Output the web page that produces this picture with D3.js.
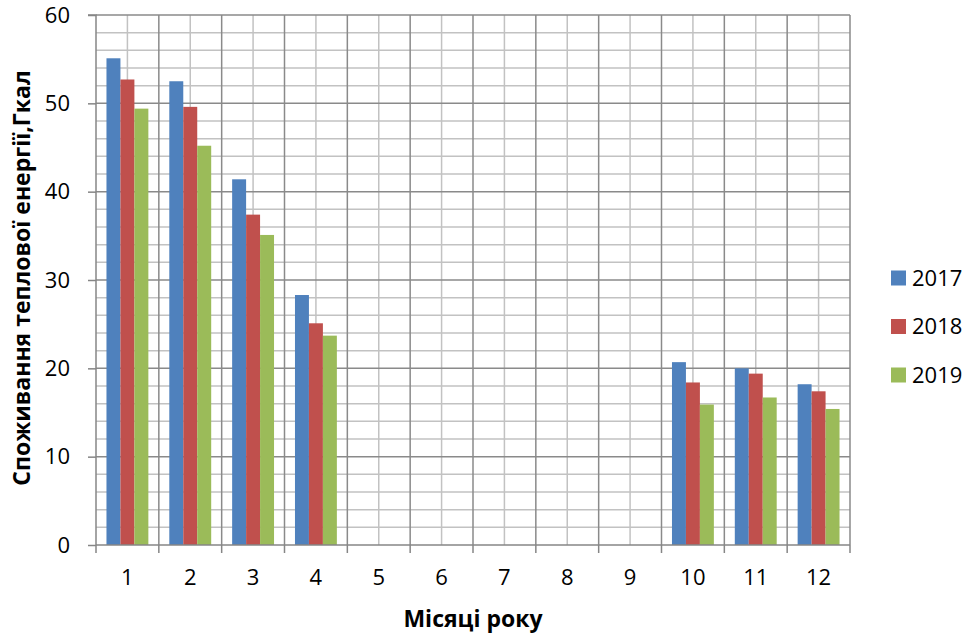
<!DOCTYPE html>
<html>
<head>
<meta charset="utf-8">
<script src="https://cdn.jsdelivr.net/npm/d3@7"></script>
<style>
  html, body { margin: 0; padding: 0; background: #fff; }
  svg { display: block; font-family: "Open Sans", Lato, sans-serif; }
</style>
</head>
<body>
<svg id="chart" width="973" height="633"></svg>
<script>
// Monthly heat consumption, Gcal
const months = ["1", "2", "3", "4", "5", "6", "7", "8", "9", "10", "11", "12"];
const years = ["2017", "2018", "2019"];
const values2017 = [55.1, 52.5, 41.4, 28.3, null, null, null, null, null, 20.7, 20.0, 18.2];
const values2018 = [52.7, 49.6, 37.4, 25.1, null, null, null, null, null, 18.4, 19.4, 17.4];
const values2019 = [49.4, 45.2, 35.1, 23.7, null, null, null, null, null, 15.9, 16.7, 15.4];
const yTicks = [0, 10, 20, 30, 40, 50, 60];
const colors = ["#4F81BD", "#C0504D", "#9BBB59"];
const yTitle = "Споживання теплової енергії,Гкал";
const xTitle = "Місяці року";

const seriesValues = [values2017, values2018, values2019];

const svg = d3.select("#chart");
const plotLeft = 96, plotRight = 850, plotTop = 15, plotBottom = 545;
const labelFont = "22px";
const titleFont = "23px";

const x = d3.scaleBand().domain(months).range([plotLeft, plotRight]).padding(0);
const xs = d3.scaleBand().domain(years).range([0, x.bandwidth()]).paddingInner(0).paddingOuter(0.75);
const y = d3.scaleLinear().domain([0, 60]).range([plotBottom, plotTop]);

const grid = svg.append("g");
// minor horizontal gridlines every 2 units
grid.selectAll("line.hmin").data(d3.range(0, 61, 2).filter(v => v % 10 !== 0)).join("line")
  .attr("x1", plotLeft).attr("x2", plotRight)
  .attr("y1", d => y(d)).attr("y2", d => y(d))
  .attr("stroke", "#c2c2c2").attr("stroke-width", 1.5);
// minor vertical gridlines at category centres
grid.selectAll("line.vmin").data(months).join("line")
  .attr("x1", d => x(d) + x.bandwidth() / 2).attr("x2", d => x(d) + x.bandwidth() / 2)
  .attr("y1", plotTop).attr("y2", plotBottom)
  .attr("stroke", "#c2c2c2").attr("stroke-width", 1.5);
// major horizontal gridlines
grid.selectAll("line.hmaj").data(yTicks.filter(v => v > 0)).join("line")
  .attr("x1", plotLeft).attr("x2", plotRight)
  .attr("y1", d => y(d)).attr("y2", d => y(d))
  .attr("stroke", "#8a8a8a").attr("stroke-width", 1.5);
// major vertical gridlines at category boundaries
grid.selectAll("line.vmaj").data(months.map(m => x(m) + x.bandwidth())).join("line")
  .attr("x1", d => d).attr("x2", d => d)
  .attr("y1", plotTop).attr("y2", plotBottom)
  .attr("stroke", "#8a8a8a").attr("stroke-width", 1.5);

// bars
const bars = svg.append("g");
years.forEach((yr, i) => {
  const vals = seriesValues[i];
  bars.append("g").selectAll("rect")
    .data(months.map((m, j) => ({ m, v: vals[j] })).filter(d => d.v != null))
    .join("rect")
    .attr("x", d => x(d.m) + xs(yr))
    .attr("width", xs.bandwidth())
    .attr("y", d => y(d.v))
    .attr("height", d => y(0) - y(d.v))
    .attr("fill", colors[i]);
});

// y axis
const yAxis = svg.append("g").attr("transform", `translate(${plotLeft},0)`)
  .call(d3.axisLeft(y).tickValues(yTicks).tickSize(8).tickPadding(18));
yAxis.select(".domain").attr("stroke", "#868686").attr("stroke-width", 1.5).attr("d", `M-8,${plotTop}H0V${plotBottom}`);
yAxis.selectAll(".tick line").attr("stroke", "#868686").attr("stroke-width", 1.5);
yAxis.selectAll(".tick text").attr("fill", "#000").style("font-size", labelFont)
  .style("font-family", "'Open Sans', sans-serif");

// x axis
const xAxis = svg.append("g").attr("transform", `translate(0,${plotBottom})`)
  .call(d3.axisBottom(x).tickSize(0).tickPadding(24));
xAxis.select(".domain").attr("stroke", "#868686").attr("stroke-width", 1.5).attr("d", `M${plotLeft},0H${plotRight}`);
xAxis.selectAll(".tick text").attr("fill", "#000").style("font-size", labelFont)
  .style("font-family", "'Open Sans', sans-serif");
xAxis.selectAll("line.edge").data([plotLeft].concat(months.map(m => x(m) + x.bandwidth()))).join("line")
  .attr("class", "edge")
  .attr("x1", d => d).attr("x2", d => d).attr("y1", 0).attr("y2", 8)
  .attr("stroke", "#868686").attr("stroke-width", 1.5);

// axis titles
svg.append("text")
  .attr("transform", `translate(30,278) rotate(-90)`)
  .attr("text-anchor", "middle")
  .style("font-size", titleFont).style("font-weight", "bold")
  .text(yTitle);
svg.append("text")
  .attr("x", (plotLeft + plotRight) / 2).attr("y", 627)
  .attr("text-anchor", "middle")
  .style("font-size", titleFont).style("font-weight", "bold")
  .text(xTitle);

// legend
const legend = svg.append("g");
const legendY = [278, 326.5, 375];
years.forEach((yr, i) => {
  legend.append("rect").attr("x", 891).attr("y", legendY[i] - 7.5)
    .attr("width", 15).attr("height", 15).attr("fill", colors[i]);
  legend.append("text").attr("x", 912).attr("y", legendY[i]).attr("dy", "0.36em")
    .style("font-size", labelFont).text(yr);
});
</script>
</body>
</html>
